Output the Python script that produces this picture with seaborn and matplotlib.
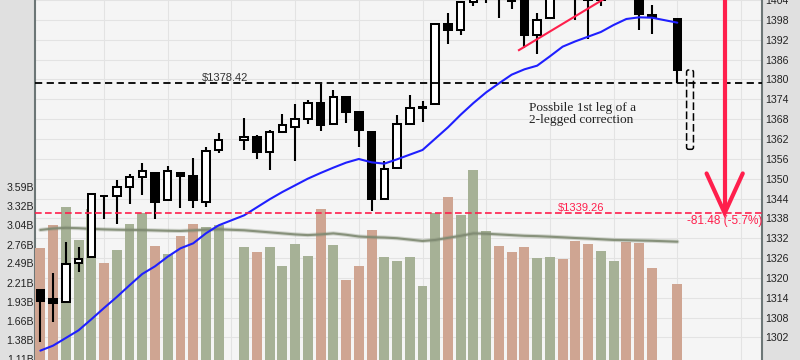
import matplotlib
matplotlib.use("Agg")
import matplotlib.pyplot as plt
import numpy as np
import pandas as pd
import seaborn as sns
from matplotlib.patches import FancyBboxPatch

# ---------------- data ----------------
# trading-day slots (15 and 49 are market holidays -> empty slots)
slots = [0, 1, 2, 3, 4, 5, 6, 7, 8, 9, 10, 11, 12, 13, 14,
         16, 17, 18, 19, 20, 21, 22, 23, 24, 25, 26, 27, 28, 29, 30,
         31, 32, 33, 34, 35, 36, 37, 38, 39, 40, 41, 42, 43, 44, 45,
         46, 47, 48, 50]
opens = [1316.2, 1313.5, 1312.5, 1324.2, 1326.2, 1344.3, 1344.3, 1347.0, 1350.0, 1351.2,
         1343.1, 1351.3, 1350.5, 1342.6, 1358.1,
         1361.2, 1362.1, 1357.5, 1363.5, 1365.2, 1367.6, 1372.2, 1365.9, 1374.1, 1369.6,
         1363.6, 1343.4, 1352.7, 1366.0, 1370.8,
         1371.9, 1396.0, 1394.2, 1402.6, 1404.2, 1409.6, 1405.5, 1402.9, 1392.8, 1397.8,
         1416.6, 1412.5, 1405.4, 1403.3, 1408.5,
         1419.0, 1413.1, 1398.8, 1397.45]
highs = [1316.2, 1321.4, 1330.5, 1329.2, 1345.3, 1344.4, 1349.2, 1351.0, 1354.3, 1351.2,
         1353.4, 1351.3, 1355.9, 1359.0, 1363.4,
         1367.8, 1362.7, 1364.2, 1368.9, 1371.9, 1373.1, 1378.0, 1376.2, 1374.5, 1369.6,
         1363.6, 1354.9, 1368.7, 1374.8, 1373.0,
         1396.1, 1399.4, 1402.6, 1405.9, 1414.0, 1409.6, 1407.8, 1402.9, 1399.2, 1416.6,
         1419.2, 1413.7, 1405.4, 1410.9, 1422.4,
         1419.0, 1413.1, 1401.6, 1397.45]
lows = [1300.5, 1306.7, 1312.5, 1321.6, 1326.2, 1337.5, 1335.9, 1342.0, 1344.6, 1337.4,
        1343.1, 1340.8, 1340.8, 1341.2, 1357.2,
        1358.1, 1355.5, 1352.3, 1363.5, 1354.9, 1366.0, 1363.8, 1365.9, 1366.4, 1359.1,
        1340.0, 1343.4, 1352.7, 1366.0, 1366.7,
        1371.9, 1390.0, 1392.8, 1401.5, 1402.4, 1397.7, 1400.6, 1388.7, 1386.9, 1397.8,
        1412.0, 1397.2, 1391.6, 1401.4, 1404.5,
        1404.6, 1394.1, 1392.9, 1378.42]
closes = [1313.0, 1312.4, 1324.1, 1325.5, 1344.9, 1344.33, 1347.1, 1350.0, 1352.0, 1342.6,
          1351.8, 1350.5, 1343.2, 1358.0, 1361.2,
          1362.2, 1357.7, 1363.5, 1365.7, 1367.6, 1372.2, 1365.7, 1374.1, 1369.6, 1364.3,
          1343.4, 1352.6, 1365.9, 1370.9, 1371.1,
          1396.0, 1394.3, 1402.6, 1404.2, 1409.8, 1405.5, 1402.9, 1392.8, 1397.1, 1416.5,
          1412.5, 1405.5, 1403.3, 1408.5, 1419.0,
          1413.4, 1399.0, 1398.1, 1382.2]
volume_b = [2.72, 3.05, 3.31, 2.83, 3.28, 2.50, 2.685, 3.06, 3.22, 2.74,
            2.63, 2.89, 3.06, 3.01, 3.05,
            2.73, 2.65, 2.73, 2.46, 2.77, 2.60, 3.28, 2.76, 2.25, 2.45,
            2.97, 2.58, 2.53, 2.58, 2.17,
            3.22, 3.45, 3.19, 3.84, 2.96, 2.74, 2.65, 2.73, 2.57, 2.58,
            2.555, 2.815, 2.77, 2.67, 2.53,
            2.80, 2.79, 2.43, 2.19]
vol_dir = ['down', 'down', 'up', 'up', 'up', 'down', 'up', 'up', 'up', 'down',
           'up', 'down', 'down', 'up', 'up',
           'up', 'down', 'up', 'up', 'up', 'up', 'down', 'up', 'down', 'down',
           'down', 'up', 'up', 'up', 'up',
           'up', 'down', 'up', 'up', 'up', 'down', 'down', 'down', 'up', 'up',
           'down', 'down', 'down', 'up', 'up',
           'down', 'down', 'down', 'down']
price_ma = [1298.0, 1299.5, 1301.8, 1304.1, 1307.4, 1310.8, 1314.1, 1317.6, 1321.0, 1323.3,
            1326.2, 1328.7, 1330.2, 1333.2, 1335.6,
            1338.6, 1341.0, 1343.4, 1345.6, 1347.6, 1349.6, 1351.3, 1352.9, 1354.4, 1355.5,
            1354.5, 1354.1, 1355.4, 1356.8, 1358.2,
            1361.6, 1365.0, 1368.8, 1372.3, 1375.5, 1378.2, 1380.8, 1382.4, 1383.5, 1386.3,
            1389.2, 1390.8, 1392.2, 1393.6, 1395.7,
            1397.5, 1398.0, 1397.9, 1396.4]
volume_ma = [2.975, 2.995, 3.005, 3.0, 2.99, 2.983, 2.978, 2.975, 2.973, 2.968,
             2.963, 2.96, 2.968, 2.978, 2.984,
             2.97, 2.955, 2.94, 2.925, 2.91, 2.90, 2.91, 2.925, 2.905, 2.88,
             2.87, 2.865, 2.855, 2.835, 2.815,
             2.83, 2.86, 2.89, 2.925, 2.92, 2.91, 2.90, 2.89, 2.885, 2.877,
             2.868, 2.858, 2.85, 2.84, 2.83,
             2.826, 2.822, 2.818, 2.805]
price_ticks = list(range(1302, 1405, 6))
volume_ticks = [1.11, 1.38, 1.66, 1.93, 2.21, 2.49, 2.76, 3.04, 3.32, 3.59]
volume_tick_labels = [f"{v:.2f}B" for v in volume_ticks]

# annotation values
support_level = 1378.42
target_level = 1339.26
move_label = "-81.48 (-5.7%)"
note_lines = ["Possbile 1st leg of a", "2-legged correction"]
trend_start = (37.5, 1388.0)
trend_end = (46.5, 1408.7)
arrow_slot = 53.72
arrow_top = 1420.74
proj_slot = 51
proj_low, proj_high = 1358.4, 1382.2

# ---------------- style ----------------
sns.set_theme(style="white")
plt.rcParams['font.family'] = ['Liberation Sans', 'DejaVu Sans']
plt.rcParams['lines.scale_dashes'] = False

FIG_BG = '#e0e0e0'
PLOT_BG = '#f5f5f5'
GRID = '#e3e3e3'
SPINE = '#6c7676'
GREEN = '#a6b196'
SALMON = '#cfa592'
RED = '#ff1f4c'
BLUE = '#1f1fff'
TXT = '#222222'

fig = plt.figure(figsize=(8, 3.6), dpi=100, facecolor=FIG_BG)
rect = [35 / 800, 0.0, 727 / 800, 1.0]
ax_grid = fig.add_axes(rect)
ax_vol = ax_grid.twinx()
ax_p = ax_grid.twinx()

XMIN, XMAX = -0.42, 56.65
PMIN, PMAX = 1295.19, 1403.2
VMIN, VMAX = 1.095, 6.298

# background axes: grid + price tick labels
ax_grid.set_facecolor(PLOT_BG)
ax_grid.set_xlim(XMIN, XMAX)
ax_grid.set_ylim(PMIN, PMAX)
ax_grid.set_yticks(price_ticks)
ax_grid.set_xticks(np.arange(5, 56, 5))
ax_grid.grid(True, color=GRID, linewidth=0.8)
ax_grid.tick_params(axis='x', length=0, labelbottom=False)
ax_grid.yaxis.tick_right()
ax_grid.tick_params(axis='y', length=0, labelsize=7.6, labelcolor=TXT, pad=2.6,
                    labelleft=False, labelright=True)
for s in ['top', 'bottom']:
    ax_grid.spines[s].set_visible(False)
for s in ['left', 'right']:
    ax_grid.spines[s].set_color(SPINE)
    ax_grid.spines[s].set_linewidth(1.5)

# volume bars
vdf = pd.DataFrame({'slot': slots, 'volume': volume_b, 'dir': vol_dir})
sns.barplot(data=vdf, x='slot', y='volume', hue='dir', native_scale=True,
            palette={'up': GREEN, 'down': SALMON}, width=0.78, errorbar=None,
            legend=False, saturation=1, linewidth=0, ax=ax_vol)
mdf = pd.DataFrame({'slot': slots, 'vma': volume_ma})
sns.lineplot(data=mdf, x='slot', y='vma', color='#7f8a72', linewidth=3.0, alpha=0.3, ax=ax_vol)
sns.lineplot(data=mdf, x='slot', y='vma', color='#7f8a72', linewidth=1.5, alpha=0.9, ax=ax_vol)
ax_vol.set_xlim(XMIN, XMAX)
ax_vol.set_ylim(VMIN, VMAX)
ax_vol.yaxis.tick_left()
ax_vol.set_yticks(volume_ticks)
ax_vol.set_yticklabels(volume_tick_labels)
ax_vol.tick_params(axis='y', length=0, labelsize=7.6, labelcolor=TXT, pad=0.8,
                   labelleft=True, labelright=False)
ax_vol.tick_params(axis='x', length=0, labelbottom=False)
ax_vol.set_xlabel('')
ax_vol.set_ylabel('')
for s in ax_vol.spines.values():
    s.set_visible(False)

# price panel
ax_p.set_xlim(XMIN, XMAX)
ax_p.set_ylim(PMIN, PMAX)
ax_p.set_yticks([])
ax_p.tick_params(axis='x', length=0, labelbottom=False)
for s in ax_p.spines.values():
    s.set_visible(False)

o = np.array(opens); h = np.array(highs); l = np.array(lows); c = np.array(closes)
x = np.array(slots)
ax_p.vlines(x, l, h, color='black', linewidth=1.5, zorder=2)
body_bottom = np.minimum(o, c)
body_height = np.abs(c - o)
faces = ['white' if cc >= oo else 'black' for oo, cc in zip(o, c)]
ax_p.bar(x, body_height, bottom=body_bottom, width=0.59, color=faces,
         edgecolor='black', linewidth=1.45, zorder=3)

pdf = pd.DataFrame({'slot': slots, 'ma': price_ma})
sns.lineplot(data=pdf, x='slot', y='ma', color=BLUE, linewidth=1.5, ax=ax_p, zorder=4)
ax_p.set_xlabel('')
ax_p.set_ylabel('')

# support line and label
ax_p.axhline(support_level, color='black', linewidth=1.3, dashes=(5.2, 3.2), zorder=5)
ax_p.text(12.67, support_level + 0.6, f"${support_level:.2f}", fontsize=8.0,
          color='#333333', ha='left', va='baseline', zorder=6)

# target line and label
ax_p.axhline(target_level, color=RED, linewidth=1.2, dashes=(4.8, 2.4), zorder=5)
ax_p.text(40.66, target_level + 0.7, f"${target_level:.2f}", fontsize=8.0,
          color=RED, ha='left', va='baseline', zorder=6)
ax_p.text(50.74, target_level - 3.4, move_label, fontsize=8.5, color=RED,
          ha='left', va='baseline', zorder=6, clip_on=True)

# trend line
ax_p.plot([trend_start[0], trend_end[0]], [trend_start[1], trend_end[1]],
          color=RED, linewidth=1.5, zorder=5, solid_capstyle='butt')

# projection arrow
ax_p.plot([arrow_slot, arrow_slot], [arrow_top, target_level], color=RED,
          linewidth=3.0, zorder=6, solid_capstyle='butt')
ax_p.plot([arrow_slot - 1.42, arrow_slot, arrow_slot + 1.42],
          [target_level + 11.9, target_level, target_level + 11.9],
          color=RED, linewidth=3.0, zorder=6, solid_joinstyle='miter')

# projected candle box
box = FancyBboxPatch((proj_slot - 0.27, proj_low), 0.54, proj_high - proj_low,
                     boxstyle="round,pad=0,rounding_size=0.16",
                     mutation_aspect=12.74 / 3.333,
                     facecolor='none', edgecolor='black', linewidth=1.1,
                     linestyle=(0, (5.5, 2.3)), zorder=5)
ax_p.add_patch(box)

# note text
ax_p.text(38.36, 1370.0, note_lines[0], family=['Liberation Serif', 'DejaVu Serif'],
          fontsize=9.6, color=TXT, ha='left', va='baseline', zorder=6)
ax_p.text(38.36, 1366.2, note_lines[1], family=['Liberation Serif', 'DejaVu Serif'],
          fontsize=9.6, color=TXT, ha='left', va='baseline', zorder=6)

fig.savefig('out.png', dpi=100, facecolor=FIG_BG)
